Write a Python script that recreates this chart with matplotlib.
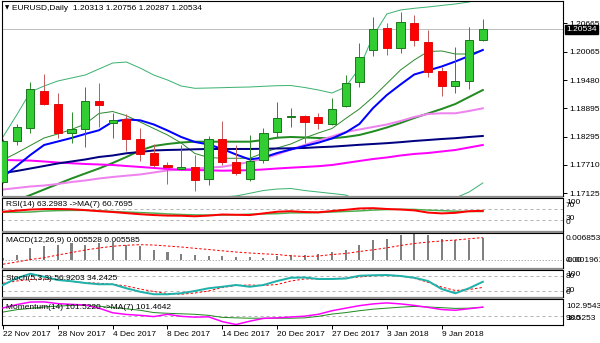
import matplotlib
matplotlib.use('Agg')
import matplotlib.pyplot as plt
import matplotlib.transforms as mtransforms
from matplotlib.patches import Rectangle
import numpy as np

plt.rcParams['font.family'] = ['Liberation Sans', 'DejaVu Sans']

# ---------------- data ----------------
date_labels = ['22 Nov 2017', '28 Nov 2017', '4 Dec 2017', '8 Dec 2017', '14 Dec 2017',
               '20 Dec 2017', '27 Dec 2017', '3 Jan 2018', '9 Jan 2018']
date_bars = [0, 4, 8, 12, 16, 20, 24, 28, 32]

opens = [1.17361, 1.18216, 1.18474, 1.19252, 1.18981, 1.18370, 1.18460, 1.19043, 1.18591, 1.18662,
         1.18251, 1.17965, 1.17715, 1.17619, 1.17674, 1.17411, 1.18251, 1.17765, 1.17411, 1.17813,
         1.18391, 1.18703, 1.18731, 1.18710, 1.18564, 1.18945, 1.19433, 1.20107, 1.20565, 1.20142,
         1.20676, 1.20267, 1.19669, 1.19356, 1.19467, 1.20313]
highs = [1.18251, 1.18558, 1.19446, 1.19613, 1.19204, 1.18820, 1.19329, 1.19419, 1.18787, 1.18772,
         1.18487, 1.18141, 1.17765, 1.18126, 1.17917, 1.18314, 1.18626, 1.18126, 1.18334, 1.18487,
         1.19016, 1.18891, 1.18751, 1.18787, 1.19112, 1.19585, 1.20259, 1.20801, 1.20663, 1.20893,
         1.20836, 1.20524, 1.19759, 1.20176, 1.20593, 1.20756]
lows = [1.17334, 1.18126, 1.18370, 1.18960, 1.18266, 1.18174, 1.18078, 1.18508, 1.18278, 1.18001,
        1.17799, 1.17674, 1.17307, 1.17605, 1.17173, 1.17292, 1.17709, 1.17500, 1.17375, 1.17757,
        1.18278, 1.18495, 1.18161, 1.18453, 1.18543, 1.18925, 1.19342, 1.19982, 1.20002, 1.20038,
        1.20196, 1.19550, 1.19154, 1.19216, 1.19287, 1.20287]
closes = [1.18209, 1.18495, 1.19287, 1.18981, 1.18382, 1.18453, 1.19043, 1.18960, 1.18647, 1.18245,
          1.17938, 1.17709, 1.17674, 1.17674, 1.17396, 1.18245, 1.17765, 1.17548, 1.17792, 1.18370,
          1.18695, 1.18731, 1.18606, 1.18578, 1.18877, 1.19412, 1.19961, 1.20551, 1.20142, 1.20684,
          1.20315, 1.19654, 1.19356, 1.19467, 1.20315, 1.20534]

ma_blue = [1.17459, 1.17688, 1.17918, 1.18126, 1.18199, 1.18272, 1.18356, 1.18433, 1.18610, 1.18658,
           1.18641, 1.18554, 1.18429, 1.18293, 1.18189, 1.18137, 1.18043, 1.17928, 1.17824, 1.17866,
           1.17959, 1.18032, 1.18105, 1.18174, 1.18262, 1.18387, 1.18564, 1.18897, 1.19168, 1.19387,
           1.19596, 1.19679, 1.19763, 1.19867, 1.19982, 1.20107]
ma_navy = [1.17542, 1.17584, 1.17636, 1.17688, 1.17741, 1.17782, 1.17824, 1.17876, 1.17907, 1.17953,
           1.17980, 1.18012, 1.18022, 1.18028, 1.18037, 1.18043, 1.18043, 1.18043, 1.18043, 1.18047,
           1.18053, 1.18057, 1.18064, 1.18080, 1.18091, 1.18110, 1.18130, 1.18147, 1.18164, 1.18185,
           1.18210, 1.18230, 1.18251, 1.18268, 1.18293, 1.18314]
ma_magenta = [1.17814, 1.17807, 1.17801, 1.17782, 1.17761, 1.17745, 1.17730, 1.17720, 1.17709, 1.17688,
              1.17668, 1.17647, 1.17626, 1.17609, 1.17605, 1.17599, 1.17590, 1.17595, 1.17601, 1.17616,
              1.17636, 1.17653, 1.17668, 1.17684, 1.17709, 1.17751, 1.17793, 1.17834, 1.17866, 1.17907,
              1.17939, 1.17959, 1.17991, 1.18022, 1.18074, 1.18126]
ma_violet = [1.17198, 1.17229, 1.17261, 1.17281, 1.17313, 1.17354, 1.17386, 1.17427, 1.17459, 1.17486,
             1.17511, 1.17553, 1.17595, 1.17616, 1.17636, 1.17653, 1.17672, 1.17720, 1.17772, 1.17845,
             1.17928, 1.18032, 1.18126, 1.18220, 1.18303, 1.18397, 1.18449, 1.18501, 1.18553, 1.18626,
             1.18710, 1.18772, 1.18787, 1.18787, 1.18835, 1.18891]
ma_fast_green = [1.17814, 1.17959, 1.18116, 1.18272, 1.18356, 1.18449, 1.18564, 1.18783, 1.18824, 1.18737,
                 1.18606, 1.18470, 1.18335, 1.18168, 1.17949, 1.17866, 1.17849, 1.17849, 1.17849, 1.17959,
                 1.18064, 1.18147, 1.18272, 1.18376, 1.18470, 1.18678, 1.18877, 1.19127, 1.19408, 1.19690,
                 1.19898, 1.20075, 1.20086, 1.20023, 1.20023, 1.20107]
bb_mid = [1.16854, 1.16969, 1.17083, 1.17198, 1.17313, 1.17427, 1.17532, 1.17636, 1.17751, 1.17876,
          1.18012, 1.18105, 1.18147, 1.18178, 1.18195, 1.18195, 1.18195, 1.18195, 1.18195, 1.18230,
          1.18278, 1.18293, 1.18283, 1.18272, 1.18266, 1.18293, 1.18335, 1.18408, 1.18491, 1.18585,
          1.18689, 1.18783, 1.18877, 1.18981, 1.19127, 1.19272]
bb_upper = [1.18293, 1.18751, 1.19231, 1.19356, 1.19460, 1.19523, 1.19585, 1.19710, 1.19835, 1.19856,
            1.19731, 1.19585, 1.19481, 1.19356, 1.19308, 1.19314, 1.19321, 1.19329, 1.19335, 1.19350,
            1.19362, 1.19366, 1.19325, 1.19273, 1.19210, 1.19335, 1.19731, 1.20398, 1.20857, 1.20941,
            1.20976, 1.21003, 1.21035, 1.21066, 1.21107, 1.21212]
bb_lower = [1.15415, 1.15186, 1.14936, 1.15040, 1.15165, 1.15332, 1.15478, 1.15561, 1.15665, 1.15895,
            1.16291, 1.16625, 1.16812, 1.17000, 1.17042, 1.17042, 1.17042, 1.17063, 1.17119, 1.17177,
            1.17208, 1.17219, 1.17177, 1.17146, 1.17115, 1.17083, 1.16958, 1.16458, 1.16145, 1.16249,
            1.16437, 1.16604, 1.16771, 1.17021, 1.17146, 1.17334]

price_ticks = [1.20665, 1.20065, 1.19480, 1.18895, 1.18295, 1.17710, 1.17125]

rsi = [60, 64, 68, 70, 70, 69, 66, 62, 59, 55, 51, 48, 46, 45.5, 43.5, 46, 50, 49, 48, 54,
       60, 62, 59, 58, 62.5, 67, 72, 73, 70, 68, 65, 57, 54, 56, 62, 63.2983]
rsi_ma = [58, 58, 59, 62.5, 64, 65, 65, 64, 61, 59, 57, 55, 52, 50, 48.5, 48, 48, 49, 51, 52,
          53, 56, 56, 57, 59, 61, 63, 66, 68, 69, 68.5, 66, 64, 62, 61, 60.7695]

macd = [0.00050, 0.00120, 0.00300, 0.00340, 0.00383, 0.00426, 0.00383, 0.00426, 0.00451, 0.00383,
        0.00340, 0.00257, 0.00189, 0.00156, 0.00131, 0.00106, 0.00088, 0.00073, 0.00073, 0.00048,
        0.00088, 0.00131, 0.00131, 0.00156, 0.00189, 0.00257, 0.00383, 0.00484, 0.00527, 0.00630,
        0.006853, 0.00630, 0.00527, 0.00491, 0.00509, 0.005528]
macd_signal = [-0.00113, -0.00058, 0.00005, 0.00050, 0.00118, 0.00181, 0.00244, 0.00295, 0.00338, 0.00365,
               0.00378, 0.00370, 0.00345, 0.00320, 0.00287, 0.00257, 0.00224, 0.00194, 0.00169, 0.00149,
               0.00131, 0.00098, 0.00081, 0.00093, 0.00131, 0.00156, 0.00207, 0.00249, 0.00300, 0.00358,
               0.00408, 0.00446, 0.00471, 0.00496, 0.00527, 0.005585]

stoch_main = [44, 71, 89, 77, 64, 59, 52, 47, 47, 31, 17, 7, 7, 11, 20, 31, 37, 44, 37, 44,
              60, 73, 74, 68, 68, 70, 81, 83, 84, 80, 73, 60, 28, 11, 31, 56.9203]
stoch_signal = [51, 60, 66, 68, 66, 58, 53, 51, 47, 40, 28, 18, 10, 7, 12, 20, 34, 42, 44, 42,
                46, 60, 68, 69, 70, 71, 76, 81, 82, 80, 71, 55, 36, 22, 26, 34.2425]

momentum = [101.37, 101.93, 102.36, 102.39, 102.10, 101.97, 101.88, 101.34, 100.57, 100.29,
            100.14, 99.93, 100.31, 99.97, 99.84, 99.89, 99.09, 98.60, 99.16, 99.63,
            99.72, 99.86, 100.00, 100.31, 100.91, 101.34, 101.76, 102.05, 102.22, 102.05,
            101.80, 101.47, 101.11, 100.99, 101.25, 101.522]
momentum_ma = [100.69, 101.08, 101.30, 101.54, 101.68, 101.80, 101.81, 101.68, 101.42, 101.22,
               100.99, 100.60, 100.48, 100.40, 100.31, 100.14, 99.80, 99.72, 99.66, 99.66,
               99.66, 99.66, 99.72, 99.97, 100.35, 100.60, 100.91, 101.17, 101.34, 101.51,
               101.63, 101.54, 101.42, 101.30, 101.34, 101.4642]

# ---------------- layout ----------------
W, H = 600, 343
fig = plt.figure(figsize=(6.0, 3.43), dpi=100)
fig.patch.set_facecolor('white')

X0, X1 = 2, 563           # plot frame in pixels
XMIN, XMAX = -0.07, 40.85  # bar-index range visible
FS = 6


def px(v):
    return v * 0.72


def add_panel(y0, y1):
    ax = fig.add_axes([X0 / W, 1 - y1 / H, (X1 - X0) / W, (y1 - y0) / H])
    ax.set_xlim(XMIN, XMAX)
    for s in ax.spines.values():
        s.set_linewidth(0.8)
        s.set_color('black')
    ax.set_xticks([])
    ax.set_yticks([])
    ax.set_facecolor('white')
    return ax


def ftext(x, y, s, **kw):
    kw.setdefault('fontsize', FS)
    kw.setdefault('va', 'center')
    kw.setdefault('ha', 'left')
    kw.setdefault('color', 'black')
    fig.text(x / W, 1 - y / H, s, **kw)


# separators between panels
for (a, b) in [(195.5, 197.5), (230.5, 232.5), (267.5, 269.5), (296.5, 298.5)]:
    fig.patches.append(Rectangle((X0 / W, 1 - b / H), (X1 - X0) / W, (b - a) / H,
                                 transform=fig.transFigure, facecolor='#8c8c8c',
                                 edgecolor='none', zorder=0))

idx = np.arange(len(closes))

# ---------------- main panel ----------------
ax = add_panel(1, 195.5)
ax.set_ylim(1.17073, 1.21128)

ax.axhline(closes[-1], color='#c0c0c0', lw=px(1), zorder=0.5)

ax.plot(idx, bb_upper, color='#3cb371', lw=px(1), zorder=2)
ax.plot(idx, bb_lower, color='#3cb371', lw=px(1), zorder=2)
ax.plot(idx, bb_mid, color='#228b22', lw=px(2), zorder=2)
ax.plot(idx, ma_fast_green, color='#2e8b2e', lw=px(1), zorder=2)
ax.plot(idx, ma_violet, color='#ee82ee', lw=px(2), zorder=2)
ax.plot(idx, ma_magenta, color='#ff00ff', lw=px(2), zorder=2)
ax.plot(idx, ma_navy, color='#000080', lw=px(2), zorder=2)
ax.plot(idx, ma_blue, color='#0000ff', lw=px(2), zorder=2)

for i, (o, h, l, c) in enumerate(zip(opens, highs, lows, closes)):
    up = c >= o
    wick = '#2f8f2f' if up else '#c06060'
    ax.vlines(i, l, h, color=wick, lw=px(1), zorder=3)
    lo, hi = min(o, c), max(o, c)
    ax.bar(i, max(hi - lo, 0.00005), bottom=lo, width=0.6,
           color='#32cd32' if up else '#ff0000',
           edgecolor='#1e7a1e' if up else '#e01010', linewidth=px(1), zorder=4)

ax.yaxis.tick_right()
ax.set_yticks(price_ticks)
ax.set_yticklabels([f'{t:.5f}' for t in price_ticks])
ax.tick_params(axis='y', length=3, width=0.7, labelsize=FS, pad=1.5, direction='out',
               colors='black')

off = mtransforms.ScaledTranslation(3 / 100, 0, fig.dpi_scale_trans)
ax.text(1.0, closes[-1], f'{closes[-1]:.5f}', transform=ax.get_yaxis_transform() + off,
        ha='left', va='center', color='white', fontsize=FS, zorder=10,
        bbox=dict(boxstyle='square,pad=0.12', fc='black', ec='black'))

ftext(4.5, 8, '\u25bc', fontsize=4, family=['DejaVu Sans'])
ftext(12, 8, 'EURUSD,Daily  %.5f %.5f %.5f %.5f' % (opens[-1], highs[-1], lows[-1], closes[-1]))

# ---------------- RSI ----------------
ax_rsi = add_panel(197.5, 230.5)
ax_rsi.set_ylim(-8.2, 111.8)
for lv in (70, 30):
    ax_rsi.axhline(lv, color='#b4b4b4', lw=px(1), ls=(0, (3, 3)), zorder=1)
ax_rsi.plot(idx, rsi_ma, color='#4caf50', lw=px(1.5), zorder=2)
ax_rsi.plot(idx, rsi, color='#ff0000', lw=px(2), zorder=3)
ftext(6, 205, 'RSI(14) %.4f ->MA(7) %.4f' % (rsi[-1], rsi_ma[-1]))
ftext(566, 203, '100')
ftext(566, 206, '70')
ftext(566, 219, '30')
ftext(566, 222, '0')

# ---------------- MACD ----------------
ax_macd = add_panel(232.5, 267.5)
ax_macd.set_ylim(-0.001961, 0.006853)
ax_macd.axhline(0, color='#b4b4b4', lw=px(1), ls=(0, (1.5, 1.5)), zorder=1)
ax_macd.bar(idx, macd, width=0.15, color='#808080', zorder=2)
ax_macd.plot(idx, macd_signal, color='#ff0000', lw=px(1), ls=(0, (2.5, 2)), zorder=3)
ftext(6, 240.5, 'MACD(12,26,9) %.6f %.6f' % (macd[-1], macd_signal[-1]))
ftext(566, 239, '0.006853')
ftext(566, 261, '-0.001961')
ftext(566, 260.5, '0.00')

# ---------------- Stochastic ----------------
ax_st = add_panel(269.5, 296.5)
ax_st.set_ylim(-2, 106)
for lv in (80, 20):
    ax_st.axhline(lv, color='#b4b4b4', lw=px(1), ls=(0, (3, 3)), zorder=1)
ax_st.plot(idx, stoch_signal, color='#ff0000', lw=px(1), ls=(0, (2.5, 2)), zorder=2)
ax_st.plot(idx, stoch_main, color='#20b2aa', lw=px(2), zorder=3)
ftext(6.5, 278.5, 'Stoch(5,3,3) %.4f %.4f' % (stoch_main[-1], stoch_signal[-1]))
ftext(566, 275, '100')
ftext(566, 276, '80')
ftext(566, 291, '20')
ftext(566, 292, '0')

# ---------------- Momentum ----------------
ax_m = add_panel(298.5, 325)
ax_m.set_ylim(98.5253, 102.9543)
ax_m.axhline(100, color='#b4b4b4', lw=px(1), ls=(0, (3, 3)), zorder=1)
ax_m.plot(idx, momentum_ma, color='#228b22', lw=px(1), zorder=2)
ax_m.plot(idx, momentum, color='#ff00ff', lw=px(1.5), zorder=3)
ftext(6.5, 307.3, 'Momentum(14) %.4f ->MA(7) %.4f' % (momentum[-1], momentum_ma[-1]))
ftext(566, 306, '102.9543')
ftext(566, 318, '100')
ftext(566, 318.5, '98.5253')

ax_m.set_xticks(date_bars)
ax_m.set_xticklabels(date_labels)
ax_m.tick_params(axis='x', length=3, width=0.7, labelsize=FS, pad=1.5, direction='out',
                 colors='black')
for lab in ax_m.get_xticklabels():
    lab.set_ha('left')

fig.savefig('out.png', dpi=100, facecolor='white')
